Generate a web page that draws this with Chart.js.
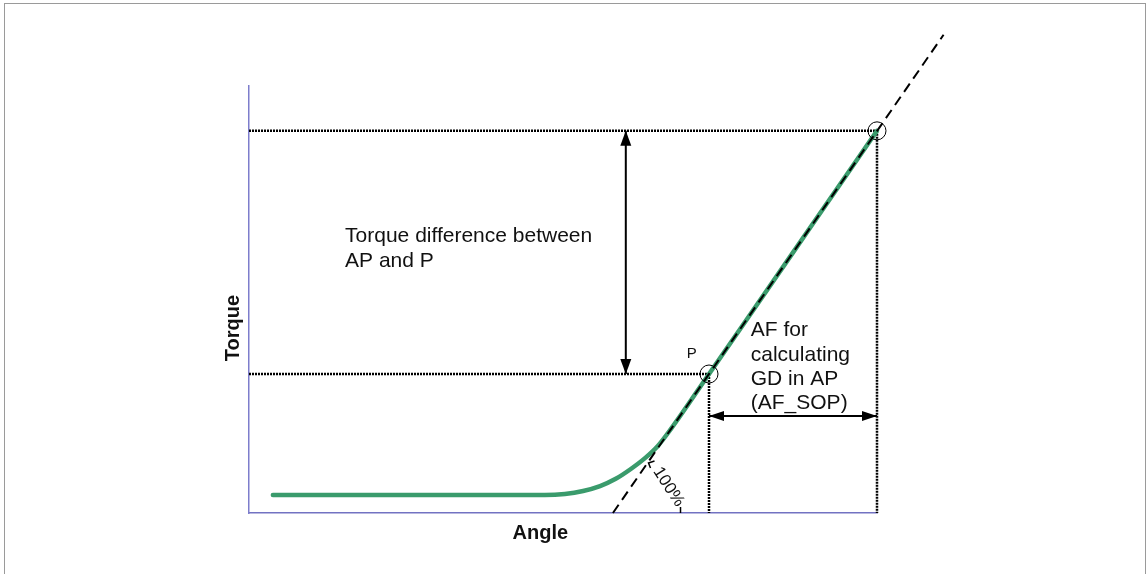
<!DOCTYPE html>
<html>
<head>
<meta charset="utf-8">
<script src="https://cdn.jsdelivr.net/npm/chart.js@4.4.1/dist/chart.umd.min.js"></script>
<style>
  html, body { margin: 0; padding: 0; background: #ffffff; }
  #wrap { position: relative; width: 1148px; height: 574px; overflow: hidden; }
  #c { position: absolute; left: 0; top: 0; }
  #frame { position: absolute; left: 4px; top: 3px; width: 1142px; height: 600px;
           border: 1px solid #9a9a9a; pointer-events: none; box-sizing: border-box; }
</style>
</head>
<body>
<div id="wrap">
  <canvas id="c" width="1148" height="574"></canvas>
  <div id="frame"></div>
</div>
<script>
// ---- data (arbitrary units 0..100) ----
const curveAngle  = [3.8, 47.1, 50.3, 53.2, 55.9, 58.4, 60.8, 63.1, 65.1, 67.2, 73.25, 80.0, 90.0, 100.0];
const curveTorque = [4.2, 4.2, 4.45, 5.15, 6.3, 8.0, 10.3, 12.9, 15.7, 19.7, 32.55, 46.9, 68.2, 89.5];

const tangentAngle  = [57.95, 110.6];
const tangentTorque = [0, 112.0];

const pointAngle  = [73.25, 100.0];   // P, AP
const pointTorque = [32.55, 89.5];

const arrowDiffAngle = 60.0;          // vertical arrow position
const arrowAFTorque  = 22.7;          // horizontal arrow position

const axisTitles = ["Angle", "Torque"];
const diffLabel  = ["Torque difference between", "AP and P"];
const afLabel    = ["AF for", "calculating", "GD in AP", "(AF_SOP)"];
const pointLabel = "P";
const slopeLabel = "100%";

// ---- build datasets ----
const toXY = (xs, ys) => xs.map((x, i) => ({ x: x, y: ys[i] }));

const dotted = { borderColor: '#000', borderWidth: 2.5, borderDash: [2, 1], pointRadius: 0, showLine: true, fill: false, clip: false };
const solid  = { borderColor: '#000', borderWidth: 2, pointRadius: 0, showLine: true, fill: false, clip: false };

const datasets = [
  { label: 'points', data: toXY(pointAngle, pointTorque), showLine: false,
    pointRadius: 9, pointHoverRadius: 9, pointBorderColor: '#000', pointBorderWidth: 1,
    pointBackgroundColor: 'rgba(0,0,0,0)', clip: false },
  { label: 'tangent', data: toXY(tangentAngle, tangentTorque), showLine: true,
    borderColor: '#000', borderWidth: 2, borderDash: [10, 6], pointRadius: 0, clip: false },
  { label: 'curve', data: toXY(curveAngle, curveTorque), showLine: true,
    borderColor: '#3a9b6c', borderWidth: 4.5, pointRadius: 0, cubicInterpolationMode: 'monotone',
    clip: false, borderCapStyle: 'round', borderJoinStyle: 'round' },
  Object.assign({ label: 'apH', data: [{ x: 0, y: pointTorque[1] }, { x: pointAngle[1], y: pointTorque[1] }] }, dotted),
  Object.assign({ label: 'pH',  data: [{ x: 0, y: pointTorque[0] }, { x: pointAngle[0], y: pointTorque[0] }] }, dotted),
  Object.assign({ label: 'pV',  data: [{ x: pointAngle[0], y: pointTorque[0] }, { x: pointAngle[0], y: 0 }] }, dotted),
  Object.assign({ label: 'apV', data: [{ x: pointAngle[1], y: pointTorque[1] }, { x: pointAngle[1], y: 0 }] }, dotted),
  Object.assign({ label: 'diffArrow', data: [{ x: arrowDiffAngle, y: pointTorque[1] }, { x: arrowDiffAngle, y: pointTorque[0] }] }, solid),
  Object.assign({ label: 'afArrow', data: [{ x: pointAngle[0], y: arrowAFTorque }, { x: pointAngle[1], y: arrowAFTorque }] }, solid)
];

function arrowHead(ctx, tipX, tipY, dirX, dirY, len, half) {
  const bx = tipX - dirX * len, by = tipY - dirY * len;
  const nx = -dirY, ny = dirX;
  ctx.beginPath();
  ctx.moveTo(tipX, tipY);
  ctx.lineTo(bx + nx * half, by + ny * half);
  ctx.lineTo(bx - nx * half, by - ny * half);
  ctx.closePath();
  ctx.fill();
}

const annotate = {
  id: 'annotate',
  afterDatasetsDraw(chart) {
    const ctx = chart.ctx;
    const X = v => chart.scales.x.getPixelForValue(v);
    const Y = v => chart.scales.y.getPixelForValue(v);
    ctx.save();
    ctx.fillStyle = '#000';
    ctx.strokeStyle = '#000';

    // arrow heads
    const ax = X(arrowDiffAngle);
    arrowHead(ctx, ax, Y(pointTorque[1]), 0, -1, 15, 5.5);
    arrowHead(ctx, ax, Y(pointTorque[0]), 0, 1, 15, 5.5);
    const ay = Y(arrowAFTorque);
    arrowHead(ctx, X(pointAngle[0]), ay, -1, 0, 15, 5);
    arrowHead(ctx, X(pointAngle[1]), ay, 1, 0, 15, 5);

    ctx.fillStyle = '#111';
    // torque difference label
    ctx.font = '21px "Liberation Sans", Arial, sans-serif';
    ctx.textAlign = 'left';
    ctx.textBaseline = 'alphabetic';
    ctx.fillText(diffLabel[0], X(15.3), Y(63.5));
    ctx.fillText(diffLabel[1], X(15.3), Y(57.6));

    // AF label
    const afY = [41.45, 35.7, 29.98, 24.36];
    afLabel.forEach((t, i) => ctx.fillText(t, X(79.9), Y(afY[i])));

    // P label
    ctx.font = '15px "Liberation Sans", Arial, sans-serif';
    ctx.textAlign = 'center';
    ctx.textBaseline = 'middle';
    ctx.fillText(pointLabel, X(70.5), Y(37.2));

    // 100% label (rotated along the slope marker)
    const cx = X(66.8), cy = Y(6.1);
    const ang = Math.atan2(38, 25);
    ctx.save();
    ctx.translate(cx, cy);
    ctx.rotate(ang);
    ctx.font = '17px "Liberation Sans", Arial, sans-serif';
    ctx.textAlign = 'center';
    ctx.textBaseline = 'middle';
    ctx.fillText(slopeLabel, 0, 0);
    ctx.restore();
    ctx.lineWidth = 1.5;
    ctx.beginPath();
    ctx.moveTo(cx - 18, cy - 19);
    ctx.lineTo(cx - 20, cy - 24);
    ctx.lineTo(cx - 14, cy - 26);
    ctx.moveTo(cx + 12, cy + 20);
    ctx.lineTo(cx + 12, cy + 26);
    ctx.stroke();

    // axis titles
    ctx.font = 'bold 20px "Liberation Sans", Arial, sans-serif';
    ctx.textAlign = 'center';
    ctx.textBaseline = 'alphabetic';
    ctx.fillText(axisTitles[0], X(46.4), Y(-6.09));
    ctx.save();
    ctx.translate(X(-1.59), Y(43.3));
    ctx.rotate(-Math.PI / 2);
    ctx.fillText(axisTitles[1], 0, 0);
    ctx.restore();

    ctx.restore();
  }
};

new Chart(document.getElementById('c'), {
  type: 'scatter',
  data: { datasets: datasets },
  options: {
    responsive: false,
    animation: false,
    layout: { padding: { top: 86, right: 271, left: 0, bottom: 0 } },
    plugins: { legend: { display: false }, tooltip: { enabled: false } },
    scales: {
      x: {
        type: 'linear', min: 0, max: 100,
        ticks: { display: false },
        grid: { display: false, drawTicks: false },
        border: { display: true, color: '#7272c2', width: 1.5 },
        title: { display: false },
        afterFit(s) { s.height = 61; }
      },
      y: {
        type: 'linear', min: 0, max: 100,
        ticks: { display: false },
        grid: { display: false, drawTicks: false },
        border: { display: true, color: '#7d7dcc', width: 1.5 },
        title: { display: false },
        afterFit(s) { s.width = 249; }
      }
    }
  },
  plugins: [annotate]
});
</script>
</body>
</html>
